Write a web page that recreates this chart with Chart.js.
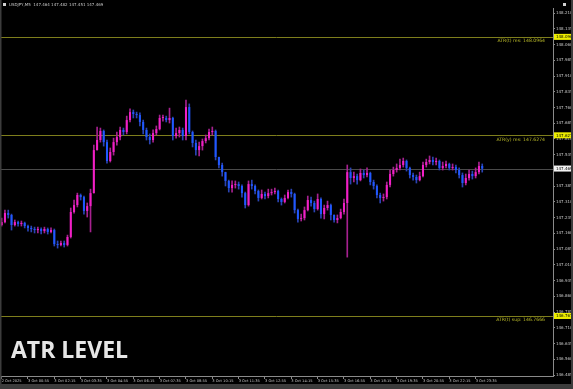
<!DOCTYPE html>
<html>
<head>
<meta charset="utf-8">
<style>
  html, body { margin: 0; padding: 0; background: #000; }
  #wrap { width: 573px; height: 389px; }
</style>
</head>
<body>
<div id="wrap"><canvas id="atrChart" width="573" height="389"></canvas></div>
<script src="https://cdn.jsdelivr.net/npm/chart.js@4/dist/chart.umd.min.js"></script>
<script>
const firstOpen = 147.200;

const closes = [
  147.214, 147.257, 147.248, 147.200, 147.214, 147.205, 147.210, 147.195, 147.186, 147.181,
  147.176, 147.181, 147.171, 147.181, 147.167, 147.176, 147.109, 147.105, 147.114, 147.105,
  147.143, 147.262, 147.295, 147.343, 147.333, 147.267, 147.290, 147.352, 147.557, 147.605,
  147.648, 147.595, 147.505, 147.548, 147.595, 147.619, 147.653, 147.643, 147.700, 147.738,
  147.729, 147.724, 147.691, 147.653, 147.619, 147.605, 147.638, 147.657, 147.710, 147.710,
  147.700, 147.710, 147.624, 147.638, 147.653, 147.624, 147.762, 147.643, 147.591, 147.557,
  147.576, 147.600, 147.614, 147.643, 147.648, 147.524, 147.486, 147.452, 147.410, 147.376,
  147.391, 147.395, 147.386, 147.352, 147.295, 147.395, 147.386, 147.362, 147.329, 147.348,
  147.338, 147.352, 147.357, 147.362, 147.324, 147.310, 147.329, 147.357, 147.348, 147.271,
  147.229, 147.233, 147.271, 147.319, 147.305, 147.276, 147.324, 147.252, 147.281, 147.295,
  147.248, 147.224, 147.233, 147.262, 147.305, 147.452, 147.424, 147.433, 147.414, 147.448,
  147.438, 147.448, 147.405, 147.386, 147.343, 147.329, 147.333, 147.391, 147.443, 147.462,
  147.472, 147.486, 147.505, 147.472, 147.438, 147.429, 147.414, 147.433, 147.486, 147.500,
  147.510, 147.500, 147.505, 147.472, 147.481, 147.491, 147.472, 147.476, 147.462, 147.438,
  147.400, 147.424, 147.443, 147.433, 147.452, 147.481, 147.469
];

const highs = [
  147.233, 147.271, 147.271, 147.252, 147.224, 147.219, 147.219, 147.214, 147.200, 147.195,
  147.190, 147.190, 147.186, 147.190, 147.186, 147.186, 147.181, 147.124, 147.124, 147.124,
  147.152, 147.281, 147.319, 147.352, 147.348, 147.338, 147.305, 147.371, 147.581, 147.667,
  147.662, 147.653, 147.605, 147.567, 147.614, 147.643, 147.667, 147.662, 147.719, 147.753,
  147.748, 147.738, 147.734, 147.700, 147.662, 147.634, 147.653, 147.672, 147.724, 147.724,
  147.719, 147.757, 147.714, 147.662, 147.667, 147.662, 147.795, 147.777, 147.648, 147.605,
  147.595, 147.610, 147.629, 147.657, 147.667, 147.653, 147.524, 147.495, 147.452, 147.414,
  147.410, 147.410, 147.405, 147.391, 147.357, 147.410, 147.414, 147.391, 147.367, 147.367,
  147.357, 147.371, 147.371, 147.376, 147.367, 147.329, 147.343, 147.367, 147.371, 147.352,
  147.276, 147.252, 147.286, 147.338, 147.333, 147.314, 147.348, 147.329, 147.295, 147.314,
  147.300, 147.248, 147.248, 147.276, 147.324, 147.486, 147.472, 147.452, 147.443, 147.467,
  147.462, 147.472, 147.452, 147.414, 147.391, 147.352, 147.348, 147.405, 147.462, 147.476,
  147.491, 147.514, 147.519, 147.510, 147.476, 147.448, 147.438, 147.452, 147.500, 147.514,
  147.529, 147.524, 147.519, 147.510, 147.500, 147.505, 147.495, 147.491, 147.486, 147.472,
  147.448, 147.443, 147.462, 147.457, 147.472, 147.500, 147.491
];

const lows = [
  147.195, 147.210, 147.233, 147.176, 147.195, 147.195, 147.195, 147.186, 147.171, 147.167,
  147.162, 147.162, 147.157, 147.162, 147.157, 147.162, 147.100, 147.090, 147.100, 147.095,
  147.100, 147.138, 147.257, 147.286, 147.319, 147.252, 147.238, 147.167, 147.352, 147.557,
  147.595, 147.576, 147.495, 147.500, 147.533, 147.581, 147.605, 147.629, 147.634, 147.691,
  147.710, 147.710, 147.672, 147.634, 147.605, 147.586, 147.595, 147.629, 147.653, 147.695,
  147.691, 147.686, 147.605, 147.614, 147.619, 147.605, 147.605, 147.634, 147.572, 147.533,
  147.529, 147.557, 147.591, 147.605, 147.629, 147.510, 147.472, 147.433, 147.386, 147.357,
  147.357, 147.376, 147.371, 147.333, 147.281, 147.290, 147.371, 147.348, 147.314, 147.324,
  147.324, 147.329, 147.343, 147.348, 147.310, 147.295, 147.305, 147.324, 147.333, 147.257,
  147.214, 147.219, 147.224, 147.267, 147.290, 147.262, 147.271, 147.233, 147.229, 147.271,
  147.224, 147.214, 147.210, 147.229, 147.252, 147.047, 147.395, 147.405, 147.395, 147.410,
  147.424, 147.429, 147.391, 147.371, 147.329, 147.305, 147.314, 147.324, 147.381, 147.433,
  147.452, 147.462, 147.476, 147.457, 147.424, 147.414, 147.400, 147.410, 147.429, 147.476,
  147.491, 147.486, 147.486, 147.462, 147.462, 147.472, 147.462, 147.462, 147.448, 147.424,
  147.381, 147.391, 147.414, 147.419, 147.424, 147.443, 147.452
];

const timeTicks = [
  '2 Oct 2025', '3 Oct 00:55', '3 Oct 02:15', '3 Oct 03:35', '3 Oct 04:55', '3 Oct 06:15',
  '3 Oct 07:35', '3 Oct 08:55', '3 Oct 10:15', '3 Oct 11:35', '3 Oct 12:55', '3 Oct 14:15',
  '3 Oct 15:35', '3 Oct 16:55', '3 Oct 18:15', '3 Oct 19:35', '3 Oct 20:55', '3 Oct 22:15',
  '3 Oct 23:35'
];

const priceTicks = [
  146.485, 146.560, 146.635, 146.710, 146.785, 146.860, 146.935, 147.010, 147.085, 147.160,
  147.235, 147.310, 147.385, 147.460, 147.535, 147.610, 147.685, 147.760, 147.835, 147.910,
  147.985, 148.060, 148.135, 148.210
];

const atrNames = ['ATR(t) res', 'ATR(y) res', 'ATR(t) sup'];
const atrValues = [148.0964, 147.6274, 146.7666];
const lastPrice = 147.469;
const headerText = 'USDJPY,M5  147.464 147.482 147.451 147.469';

// every slot is 10 minutes, a time label every 8 slots
const slotCount = 168;
const slots = Array.from({ length: slotCount }, (_, i) => (i % 8 === 0 && timeTicks[i / 8]) || '');

const opens = closes.map((c, i) => (i === 0 ? firstOpen : closes[i - 1]));
const bodies = closes.map((c, i) => [opens[i], c]);
const wicks = closes.map((c, i) => [lows[i], highs[i]]);
const isUp = (i) => closes[i] >= opens[i];

const frame = {
  id: 'frame',
  beforeDraw(chart) {
    const c = chart.ctx;
    c.save();
    c.fillStyle = '#000';
    c.fillRect(0, 0, chart.width, chart.height);
    c.restore();
  },
  beforeDatasetsDraw(chart) {
    const c = chart.ctx;
    const area = chart.chartArea;
    const y = chart.scales.y;
    c.save();
    c.lineWidth = 1;
    c.strokeStyle = '#4a4a4a';
    let py = Math.round(y.getPixelForValue(lastPrice)) + 0.5;
    c.beginPath();
    c.moveTo(area.left, py);
    c.lineTo(area.right, py);
    c.stroke();
    c.strokeStyle = '#7e7e1c';
    atrValues.forEach((v) => {
      py = Math.round(y.getPixelForValue(v)) + 0.5;
      c.beginPath();
      c.moveTo(area.left, py);
      c.lineTo(area.right, py);
      c.stroke();
    });
    c.restore();
  },
  afterDraw(chart) {
    const c = chart.ctx;
    const area = chart.chartArea;
    const y = chart.scales.y;
    c.save();

    // level texts
    c.font = '4.6px "DejaVu Sans"';
    c.fillStyle = '#b9b928';
    c.textAlign = 'right';
    c.textBaseline = 'middle';
    atrValues.forEach((v, i) => {
      const py = y.getPixelForValue(v);
      c.fillText(atrNames[i] + ': ' + v.toFixed(4), area.right - 8, py + 4);
    });

    // price boxes on the axis
    c.font = '4px "DejaVu Sans"';
    c.textAlign = 'left';
    const box = (v, bg) => {
      const py = y.getPixelForValue(v);
      c.fillStyle = bg;
      c.fillRect(area.right + 1, py - 3, 18, 6);
      c.fillStyle = '#000';
      c.fillText(v.toFixed(3), area.right + 3, py + 0.3);
    };
    atrValues.forEach((v) => box(v, '#eded00'));
    box(lastPrice, '#f2f2f2');

    // window chrome
    c.fillStyle = '#3c3c3c';
    c.fillRect(0, 384, chart.width, 5);
    c.fillRect(571, 0, 2, 384);
    c.fillRect(0, 0, 1.5, 384);
    c.fillStyle = '#d0d0d0';
    c.fillRect(3, 3, 3, 3);
    c.fillRect(563, 3, 3, 3);
    c.font = '4px "DejaVu Sans"';
    c.fillStyle = '#c8c8c8';
    c.textBaseline = 'middle';
    c.fillText(headerText, 9, 5);

    // big caption
    c.font = 'bold 23px "Open Sans"';
    c.fillStyle = '#e6e6e6';
    c.textBaseline = 'alphabetic';
    c.fillText('ATR LEVEL', 11, 358);
    c.restore();
  }
};

const ctx = document.getElementById('atrChart').getContext('2d');

const atrChart = new Chart(ctx, {
  type: 'bar',
  data: {
    labels: slots,
    datasets: [
      {
        label: 'bodies',
        data: bodies,
        backgroundColor: (c) => (isUp(c.dataIndex) ? '#f21fc6' : '#2058ff'),
        borderWidth: 0,
        barPercentage: 0.62,
        categoryPercentage: 1,
        minBarLength: 1,
        grouped: false,
        order: 1,
      },
      {
        label: 'wicks',
        data: wicks,
        backgroundColor: (c) => (isUp(c.dataIndex) ? '#a6218f' : '#2a44b4'),
        borderWidth: 0,
        barThickness: 1,
        grouped: false,
        order: 2,
      },
    ],
  },
  options: {
    responsive: false,
    animation: false,
    layout: { padding: { top: 8, left: 0, right: 0, bottom: 0 } },
    plugins: {
      legend: { display: false },
      tooltip: { enabled: false },
      title: { display: false },
    },
    scales: {
      x: {
        type: 'category',
        offset: true,
        grid: { drawOnChartArea: false, offset: false, tickLength: 3, color: '#8a8a8a' },
        border: { color: '#8a8a8a' },
        ticks: {
          autoSkip: false,
          maxRotation: 0,
          align: 'start',
          padding: 0,
          color: '#c8c8c8',
          font: { size: 3.6, family: 'DejaVu Sans' },
        },
        afterBuildTicks: (s) => {
          s.ticks = s.ticks.filter((t) => t.value % 8 === 0 && t.value / 8 < timeTicks.length);
        },
        afterFit: (s) => {
          s.height = 13;
        },
      },
      y: {
        position: 'right',
        min: 146.4806,
        max: 148.234,
        grid: { drawOnChartArea: false, tickLength: 2, color: '#8a8a8a' },
        border: { color: '#8a8a8a' },
        ticks: {
          padding: 1,
          color: '#c8c8c8',
          font: { size: 4, family: 'DejaVu Sans' },
          callback: (v) => v.toFixed(3),
        },
        afterBuildTicks: (s) => {
          s.ticks = priceTicks.map((v) => ({ value: v }));
        },
        afterFit: (s) => {
          s.width = 20;
        },
      },
    },
  },
  plugins: [frame],
});
</script>
</body>
</html>
